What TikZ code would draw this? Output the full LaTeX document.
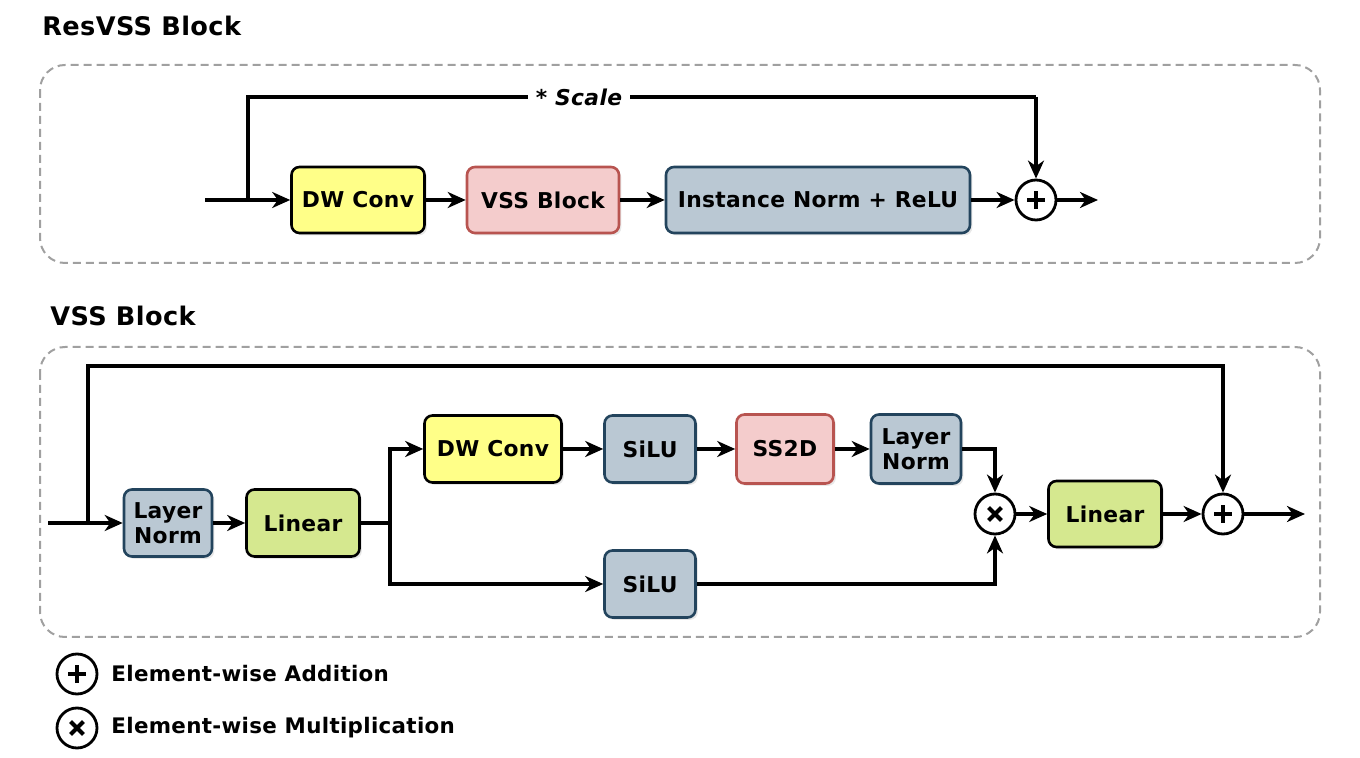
\documentclass[tikz,border=0pt]{standalone}
\usepackage{fontspec}
\setmainfont[LetterSpace=1.5]{DejaVu Sans}
\usetikzlibrary{arrows.meta,shadows}
\definecolor{convfill}{HTML}{FFFF88}
\definecolor{vssfill}{HTML}{F4CCCC}
\definecolor{vssline}{HTML}{B85450}
\definecolor{normfill}{HTML}{BAC8D3}
\definecolor{normline}{HTML}{23445D}
\definecolor{linfill}{HTML}{D5E88F}
\definecolor{frameline}{HTML}{A0A0A0}
\tikzset{
        blk/.style={draw, rounded corners=4pt, line width=1.3pt, align=center, inner sep=0pt,
                font=\fontsize{10.9}{12.6}\selectfont\bfseries,
                drop shadow={shadow xshift=1.2pt, shadow yshift=-1.2pt, opacity=0.18}},
        convblk/.style={blk, fill=convfill},
        vssblk/.style={blk, fill=vssfill, draw=vssline},
        normblk/.style={blk, fill=normfill, draw=normline},
        linblk/.style={blk, fill=linfill},
        opnode/.style={circle, draw, fill=white, line width=1.4pt, minimum size=20pt, inner sep=0pt},
        addop/.style={opnode, path picture={
                \draw[line width=1.8pt] ([xshift=-4.5pt]path picture bounding box.center) -- ([xshift=4.5pt]path picture bounding box.center);
                \draw[line width=1.8pt] ([yshift=-4.5pt]path picture bounding box.center) -- ([yshift=4.5pt]path picture bounding box.center);}},
        mulop/.style={opnode, path picture={
                \draw[line width=2pt] ([shift={(-3.2pt,-3.2pt)}]path picture bounding box.center) -- ([shift={(3.2pt,3.2pt)}]path picture bounding box.center);
                \draw[line width=2pt] ([shift={(-3.2pt,3.2pt)}]path picture bounding box.center) -- ([shift={(3.2pt,-3.2pt)}]path picture bounding box.center);}},
        wire/.style={line width=1.7pt},
        arr/.style={wire, -{Stealth[length=9pt, width=8pt, inset=2.8pt]}},
        frame/.style={draw=frameline, line width=1pt, dash pattern=on 4pt off 2.5pt, rounded corners=12.5pt},
        title/.style={anchor=west, inner sep=0pt, font=\fontsize{12.8}{14}\selectfont\bfseries},
        legtext/.style={anchor=west, inner sep=0pt, font=\fontsize{10.7}{12.6}\selectfont\bfseries}
}
\begin{document}
\begin{tikzpicture}[x=0.5pt, y=-0.5pt]
        \useasboundingbox (0, 0) rectangle (1360, 758);

        \node [title] (restitle) at (42, 26) {ResVSS Block};
        \draw [frame] (40, 65) rectangle (1320, 263);
        \node [convblk, minimum width=66.5pt, minimum height=33pt] (dwc1) at (358, 200) {DW Conv};
        \node [vssblk, minimum width=76pt, minimum height=33pt] (vss) at (543, 200) {VSS Block};
        \node [normblk, minimum width=152pt, minimum height=33pt] (inr) at (818, 200) {Instance Norm + ReLU};
        \node [addop] (add1) at (1036, 200) {};
        \coordinate (in1) at (205, 200);
        \coordinate (br1) at (248, 200);
        \coordinate (skip1) at (1036, 97);
        \coordinate (out1) at (1098, 200);
        \draw [wire] (in1) -- (br1);
        \draw [arr] (br1) -- (dwc1);
        \draw [arr] (dwc1) -- (vss);
        \draw [arr] (vss) -- (inr);
        \draw [arr] (inr) -- (add1);
        \draw [arr] (add1) -- (out1);
        \draw [wire] (br1) |- node [pos=0.71, fill=white, inner xsep=4pt, inner ysep=1pt,
                font=\fontsize{10.9}{12.6}\selectfont\bfseries\itshape] (scale) {* Scale} (skip1);
        \draw [arr] (skip1) -- (add1);

        \node [title] (vsstitle) at (50, 316) {VSS Block};
        \draw [frame] (40, 347) rectangle (1320, 637);
        \node [normblk, minimum width=44pt, minimum height=33.5pt] (ln1) at (168, 523) {Layer\\Norm};
        \node [linblk, minimum width=56.5pt, minimum height=33.5pt] (lin1) at (303, 523) {Linear};
        \node [convblk, minimum width=68.5pt, minimum height=33.5pt] (dwc2) at (493, 449) {DW Conv};
        \node [normblk, minimum width=45.5pt, minimum height=33.5pt] (silu1) at (650, 449) {SiLU};
        \node [vssblk, minimum width=48.5pt, minimum height=34.5pt] (ss2d) at (785, 449) {SS2D};
        \node [normblk, minimum width=45pt, minimum height=34.5pt] (ln2) at (916, 449) {Layer\\Norm};
        \node [normblk, minimum width=45.5pt, minimum height=33.5pt] (silu2) at (650, 584) {SiLU};
        \node [mulop] (mul) at (995, 514) {};
        \node [linblk, minimum width=56.5pt, minimum height=33pt] (lin2) at (1105, 514) {Linear};
        \node [addop] (add2) at (1223, 514) {};
        \coordinate (in2) at (48, 523);
        \coordinate (br2) at (88, 523);
        \coordinate (skip2) at (1223, 366);
        \coordinate (split) at (390, 523);
        \coordinate (out2) at (1305, 514);
        \draw [arr] (in2) -- (ln1);
        \draw [arr] (ln1) -- (lin1);
        \draw [wire] (lin1.east) -- (split);
        \draw [arr] (split) |- (dwc2.west);
        \draw [arr] (split) |- (silu2.west);
        \draw [arr] (dwc2) -- (silu1);
        \draw [arr] (silu1) -- (ss2d);
        \draw [arr] (ss2d) -- (ln2);
        \draw [arr] (ln2.east) -| (mul.north);
        \draw [arr] (silu2.east) -| (mul.south);
        \draw [arr] (mul) -- (lin2);
        \draw [arr] (lin2) -- (add2);
        \draw [arr] (add2) -- (out2);
        \draw [arr] (br2) |- (skip2) -- (add2.north);

        \node [addop] (legadd) at (77, 674) {};
        \node [legtext] (legaddtext) at (111, 674) {Element-wise Addition};
        \node [mulop] (legmul) at (77, 728) {};
        \node [legtext] (legmultext) at (111, 728) {Element-wise Multiplication};
\end{tikzpicture}
\end{document}
